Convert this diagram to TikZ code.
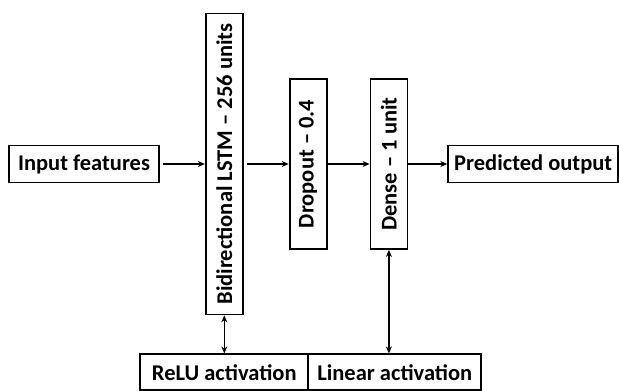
\documentclass[tikz,border=0pt]{standalone}
\usepackage{fontspec}
\setmainfont{Carlito}
\usepackage{graphicx}
\usetikzlibrary{positioning,arrows.meta}

\tikzset{
  blk/.style={draw, line width=1.8pt, inner sep=0pt, font=\fontsize{22.5}{26}\selectfont\bfseries},
  vblk/.style={blk, minimum width=37pt},
}
\newcommand{\vtext}[1]{\rotatebox{90}{#1}}

\begin{document}
\begin{tikzpicture}[x=1pt,y=1pt,->,>={Stealth[length=7pt,width=6pt]},line width=1.4pt]
\useasboundingbox (0,0) rectangle (619,-391);

\node[blk, minimum width=150pt, minimum height=37pt] (inp) at (84,-164) {Input features};
\node[vblk, minimum height=301pt, right=45pt of inp] (lstm) {\vtext{Bidirectional LSTM -- 256 units}};
\node[vblk, minimum height=170pt, right=45pt of lstm] (drop) {\vtext{Dropout -- 0.4}};
\node[vblk, minimum height=170pt, right=42pt of drop] (dense) {\vtext{Dense -- 1 unit}};
\node[blk, minimum width=170pt, minimum height=37pt, right=39pt of dense] (pred) {Predicted output};

%activations
\node[blk, minimum width=168pt, minimum height=36pt, below=38pt of lstm] (relu) {ReLU activation};
\node[blk, minimum width=173pt, minimum height=36pt, right=-1.8pt of relu] (lin) {Linear activation};

\path (inp) edge[shorten <=3pt] (lstm.west |- inp);
\path (lstm.east |- drop) edge[shorten <=3pt] (drop);
\path (drop) edge (dense);
\path (dense) edge (pred);

\path (lstm) edge[<->] (relu);
\path (dense) edge[<->] (dense |- lin.north);
\end{tikzpicture}
\end{document}
